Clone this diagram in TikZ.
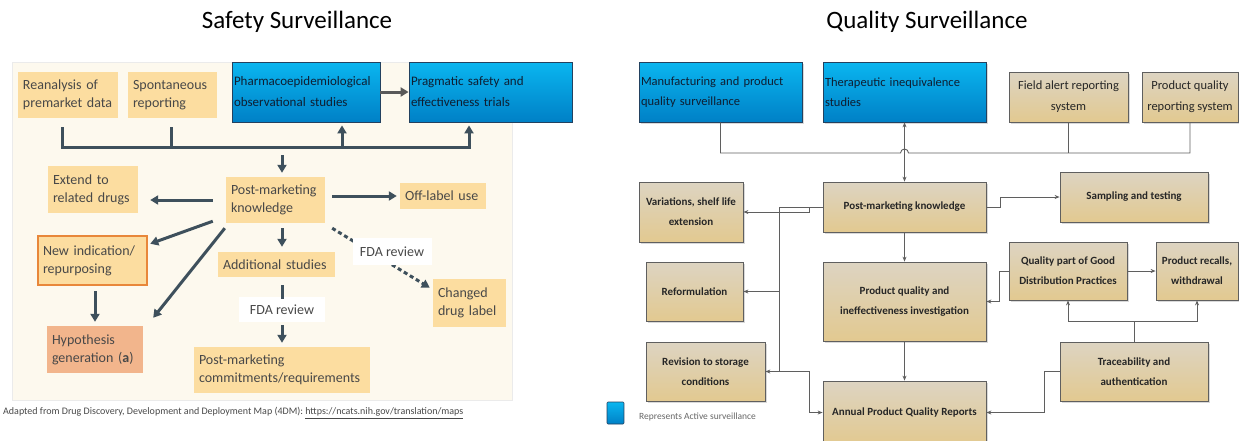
\documentclass[tikz,border=0pt]{standalone}
\usepackage{fontspec}
\setmainfont{Carlito}
\usetikzlibrary{arrows.meta,shadows}

\definecolor{bgcream}{RGB}{253,249,238}
\definecolor{tanfill}{RGB}{252,221,160}
\definecolor{salmon}{RGB}{242,181,140}
\definecolor{orangeedge}{RGB}{232,135,58}
\definecolor{slate}{RGB}{62,80,92}
\definecolor{bluetop}{RGB}{10,182,240}
\definecolor{bluebot}{RGB}{0,128,198}
\definecolor{blueedge}{RGB}{35,65,95}
\definecolor{bluetext}{RGB}{15,30,50}
\definecolor{qtop}{RGB}{221,212,194}
\definecolor{qbot}{RGB}{226,201,144}
\definecolor{qedge}{RGB}{95,95,95}
\definecolor{wiregray}{RGB}{95,95,95}
\definecolor{textgray}{RGB}{72,72,72}

\tikzset{
  tanbox/.style={fill=tanfill, text=textgray, inner xsep=5pt, inner ysep=3pt, align=left, font=\fontsize{14}{18}\selectfont},
  bluebox/.style={top color=bluetop, bottom color=bluebot, draw=blueedge, line width=0.8pt, text=bluetext, inner xsep=2pt, align=left, font=\fontsize{13}{21}\selectfont},
  qbluebox/.style={bluebox, font=\fontsize{12.5}{20}\selectfont, drop shadow={shadow xshift=1.5pt, shadow yshift=-1.5pt, opacity=0.3}},
  qtopbox/.style={top color=qtop, bottom color=qbot, draw=qedge, line width=0.8pt, text=black!85, inner sep=2pt, align=center, font=\fontsize{12.5}{21}\selectfont, drop shadow={shadow xshift=1.5pt, shadow yshift=-1.5pt, opacity=0.3}},
  qbox/.style={qtopbox, font=\bfseries\fontsize{11}{20}\selectfont},
  fdalabel/.style={fill=white, text=textgray, inner sep=2pt, minimum width=86pt, minimum height=25pt, font=\fontsize{14}{18}\selectfont},
  sline/.style={slate, line width=3pt},
  sarrow/.style={sline, -{Triangle[length=8pt,width=9pt]}},
  dasharrow/.style={sarrow, dash pattern=on 4pt off 3pt},
  qwire/.style={wiregray, line width=0.9pt},
  qarrow/.style={qwire, -{Stealth[length=5pt,width=4pt]}},
  qdouble/.style={qwire, {Stealth[length=5pt,width=4pt]}-{Stealth[length=5pt,width=4pt]}}
}

\begin{document}
\begin{tikzpicture}[x=1pt,y=-1pt]
	\useasboundingbox (0,0) rectangle (1239,440);
	\clip (0,0) rectangle (1239,440);

	% safety surveillance
	\filldraw[fill=bgcream, draw=black!8] (12,62) rectangle (512,400);
	\node[font=\fontsize{25}{30}\selectfont] (stitle) at (297,22) {Safety Surveillance};
	\node[tanbox, text width=90pt, minimum height=46pt] (reanalysis) at (68,95) {Reanalysis of\\premarket data};
	\node[tanbox, text width=79pt, minimum height=46pt] (spont) at (172.5,95) {Spontaneous\\reporting};
	\node[bluebox, text width=144pt, minimum height=60pt] (pharmaco) at (306,92) {Pharmacoepidemiological\\observational studies};
	\node[bluebox, text width=159pt, minimum height=60pt] (pragmatic) at (490.5,92) {Pragmatic safety and\\effectiveness trials};
	\node[tanbox, text width=89pt, minimum height=46pt] (pmk) at (275.5,200) {Post-marketing\\knowledge};
	\node[tanbox, text width=80pt, minimum height=47pt] (extend) at (93,189.5) {Extend to\\related drugs};
	\node[tanbox, text width=76pt, minimum height=26pt] (offlabel) at (443,196) {Off-label use};
	\node[tanbox, draw=orangeedge, line width=2.5pt, text width=99pt, minimum height=49pt] (newind) at (92.5,260.5) {New indication/\\repurposing};
	\node[tanbox, fill=salmon, text width=86pt, minimum height=47pt] (hypo) at (95,349.5) {Hypothesis\\generation (\textbf{a})};
	\node[tanbox, text width=107pt, minimum height=25pt] (addl) at (276.5,264.5) {Additional studies};
	\node[fdalabel] (fdaone) at (282,309.5) {FDA review};
	\node[tanbox, text width=166pt, minimum height=46pt] (pmc) at (282,370) {Post-marketing\\commitments/requirements};
	\node[tanbox, text width=63pt, minimum height=48pt] (changed) at (469.5,303) {Changed\\drug label};
	\node[anchor=west, inner sep=0pt, text=textgray, font=\fontsize{10}{12}\selectfont] (source) at (3,413) {Adapted from Drug Discovery, Development and Deployment Map (4DM): \underline{https://ncats.nih.gov/translation/maps}};

	\coordinate (busa) at (62,147);
	\coordinate (busb) at (171,147);
	\coordinate (busc) at (282,147);
	\coordinate (busd) at (342,147);
	\coordinate (buse) at (469,147);
	\draw[sarrow] ([yshift=-9pt]reanalysis.south -| busa) -- (busa) -- (buse) -- ([yshift=-3pt]buse |- pragmatic.south);
	\draw[sline] ([yshift=-9pt]spont.south -| busb) -- (busb);
	\draw[sarrow] (busd) -- ([yshift=-3pt]busd |- pharmaco.south);
	\draw[sarrow, black!65] (pharmaco.east) -- (pragmatic.west);
	\draw[sarrow] ([yshift=-8pt]busc) -- ([yshift=4pt]busc |- pmk.north);
	\draw[sarrow] ([xshift=-13pt]pmk.west) -- ([xshift=12pt]pmk.west -| extend.east);
	\draw[sarrow] ([xshift=7pt]pmk.east |- offlabel.west) -- ([xshift=-3pt]offlabel.west);
	\draw[sarrow] ([xshift=-13pt,yshift=2pt]pmk.south west) -- ([xshift=2pt,yshift=-9pt]newind.north east);
	\draw[sarrow] ([xshift=-1pt,yshift=-5pt]pmk.south west) -- ([xshift=10pt,yshift=8pt]hypo.north east);
	\draw[sarrow] ([yshift=-5pt]hypo.north |- newind.south) -- ([yshift=4pt]hypo.north);
	\draw[sarrow] ([yshift=-5pt]busc |- pmk.south) -- ([yshift=5pt]busc |- addl.north);
	\draw[sline] ([yshift=-8pt]busc |- addl.south) -- ([yshift=-2pt]busc |- fdaone.north);
	\draw[sarrow] ([yshift=-3pt]busc |- fdaone.south) -- ([yshift=4pt]busc |- pmc.north);
	\draw[dasharrow] ([xshift=7pt,yshift=-5pt]pmk.south east) -- ([xshift=-3pt,yshift=-9pt]changed.north west);
	\node[fdalabel, minimum width=79pt, minimum height=27pt] (fdatwo) at (392,251.5) {FDA review};

	% quality surveillance
	\node[font=\fontsize{25}{30}\selectfont] (qtitle) at (927,22) {Quality Surveillance};
	\node[qbluebox, text width=159pt, minimum height=60pt] (manuf) at (720.5,92) {Manufacturing and product\\quality surveillance};
	\node[qbluebox, text width=159pt, minimum height=60pt] (thera) at (904.5,92) {Therapeutic inequivalence\\studies};
	\node[qtopbox, minimum width=119pt, minimum height=50pt] (field) at (1068.5,97) {Field alert reporting\\system};
	\node[qtopbox, minimum width=96pt, minimum height=50pt] (pqrs) at (1190,97) {Product quality\\reporting system};
	\node[qbox, minimum width=163pt, minimum height=50pt] (qpmk) at (904.5,207) {Post-marketing knowledge};
	\node[qbox, minimum width=104pt, minimum height=60pt] (variation) at (691,212) {Variations, shelf life\\extension};
	\node[qbox, minimum width=148pt, minimum height=50pt] (sampling) at (1134,197) {Sampling and testing};
	\node[qbox, minimum width=97pt, minimum height=59pt] (reform) at (694.5,291.5) {Reformulation};
	\node[qbox, minimum width=163pt, minimum height=79pt] (pqi) at (904.5,301.5) {Product quality and\\ineffectiveness investigation};
	\node[qbox, minimum width=118pt, minimum height=58pt] (gdp) at (1068,271) {Quality part of Good\\Distribution Practices};
	\node[qbox, minimum width=82pt, minimum height=58pt] (recall) at (1197,271) {Product recalls,\\withdrawal};
	\node[qbox, minimum width=119pt, minimum height=59pt] (revision) at (705.5,371.5) {Revision to storage\\conditions};
	\node[qbox, minimum width=148pt, minimum height=59pt] (trace) at (1134,371.5) {Traceability and\\authentication};
	\node[qbox, minimum width=163pt, minimum height=63pt] (apqr) at (904.5,412.5) {Annual Product Quality Reports};
	\node[top color=bluetop, bottom color=bluebot, draw=blueedge, line width=0.6pt, rounded corners=1pt, minimum width=17pt, minimum height=22pt, inner sep=0pt] (key) at (615.5,413) {};
	\node[anchor=west, inner sep=0pt, text=black!60, font=\fontsize{9.5}{11}\selectfont] (keytext) at (639,417) {Represents Active surveillance};

	\coordinate (qbus) at (904.5,153);
	\coordinate (trunk) at (779,207);
	\coordinate (tjoin) at (1134,321);
	\draw[qwire] (manuf.south) |- ([xshift=-4pt]qbus) arc[start angle=180, end angle=0, radius=4pt] -| (pqrs.south);
	\draw[qwire] (field.south) -- (field.south |- qbus);
	\draw[qdouble] (thera.south) -- (qpmk.north);
	\draw[qarrow] (qpmk.east) -- ++(14,0) |- (sampling.west);
	\draw[qarrow] (qpmk.west) -- ++(-13,0) |- (variation.east);
	\draw[qarrow] (qpmk.west) -- (trunk) |- (reform.east);
	\draw[qarrow] (trunk) |- (revision.east);
	\draw[qarrow] (revision.east) -- ++(44,0) |- (apqr.west);
	\draw[qarrow] (qpmk.south) -- (pqi.north);
	\draw[qarrow] (pqi.south) -- (apqr.north);
	\draw[qarrow] (gdp.east) -- (recall.west);
	\draw[qarrow] (gdp.west) -- ++(-9,0) |- (pqi.east);
	\draw[qwire] (trace.north) -- (tjoin);
	\draw[qarrow] (tjoin) -| (gdp.south);
	\draw[qarrow] (tjoin) -| (recall.south);
	\draw[qarrow] (trace.west) -- ++(-15,0) |- (apqr.east);
\end{tikzpicture}
\end{document}
